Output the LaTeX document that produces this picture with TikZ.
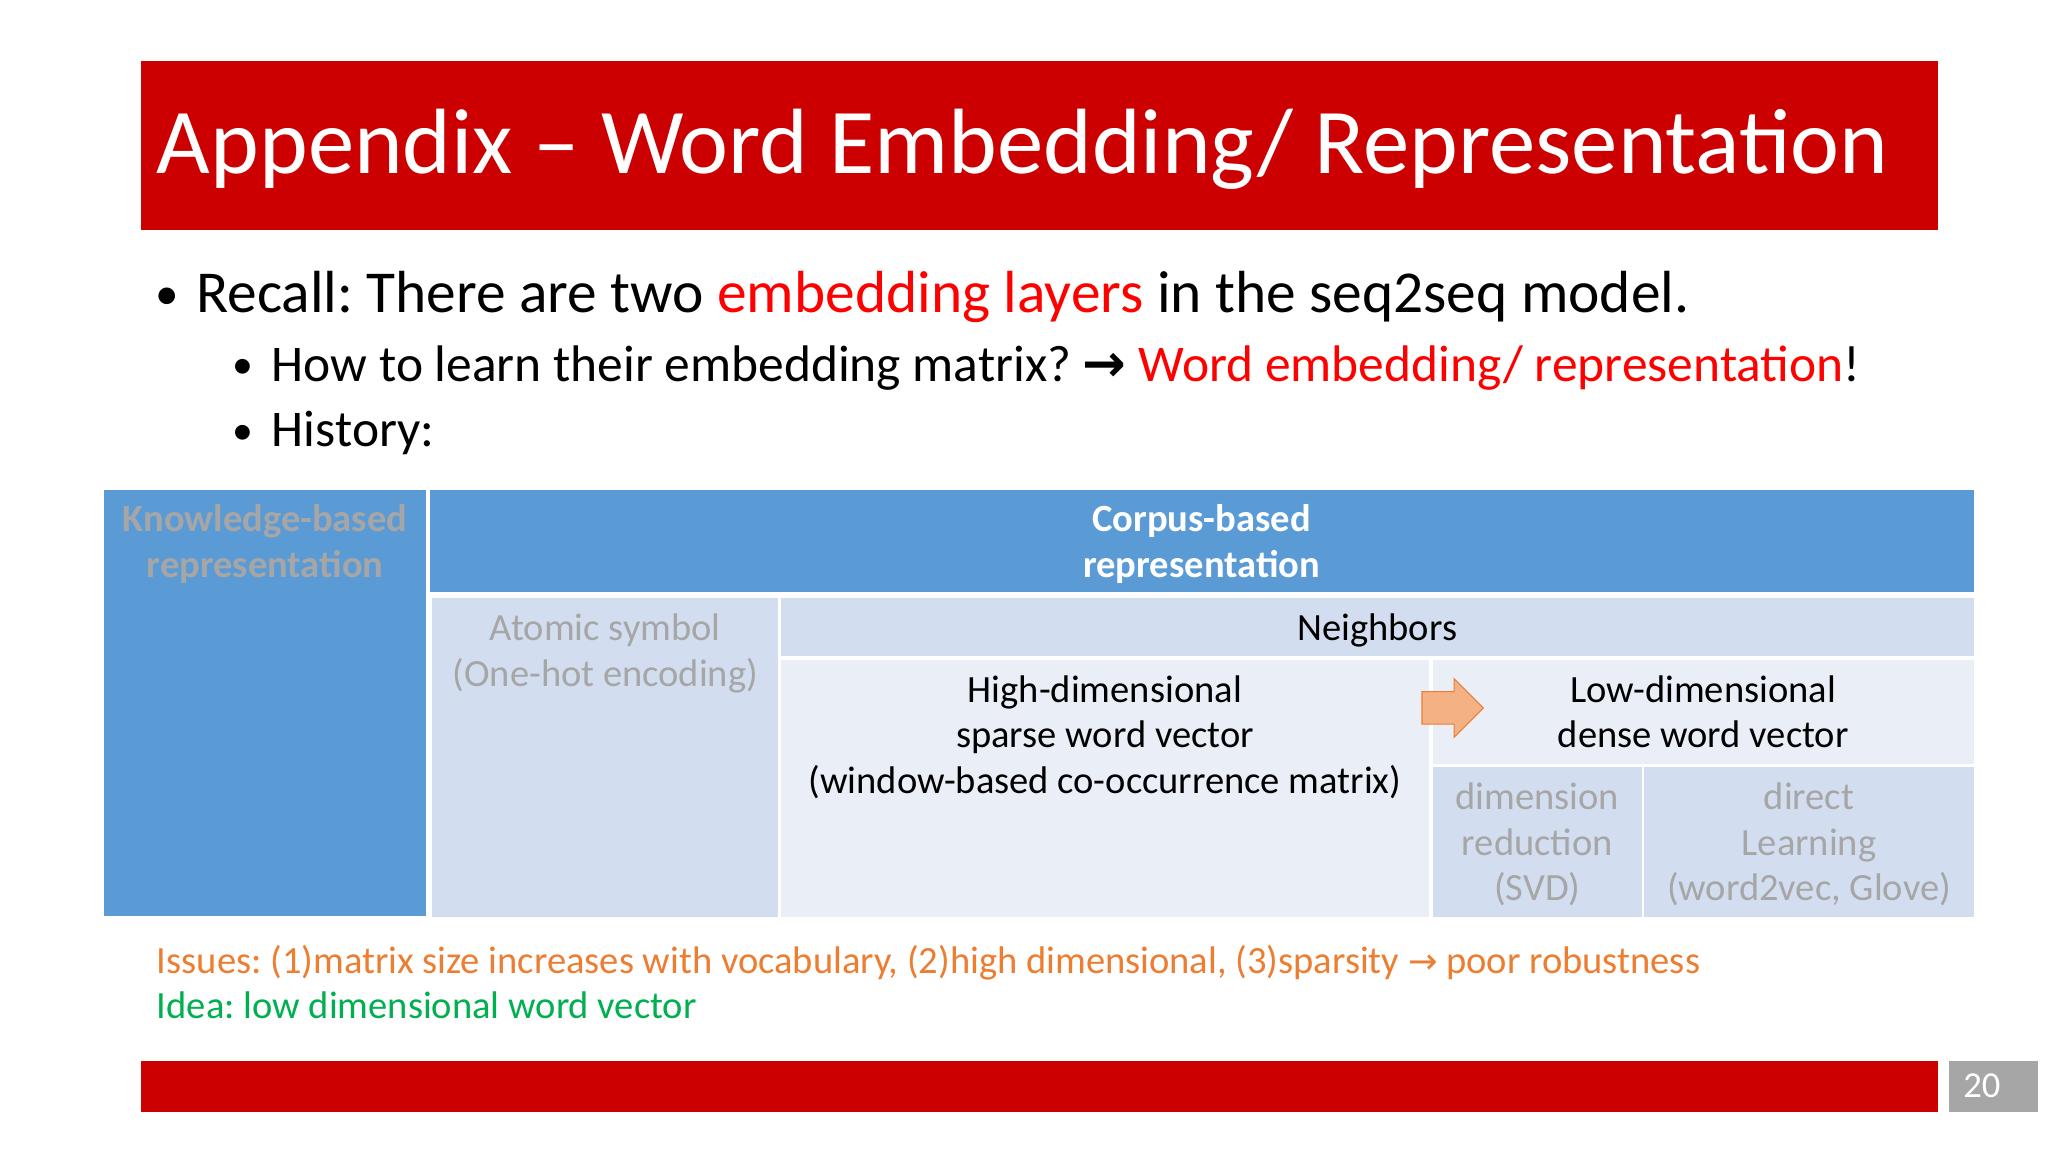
\documentclass[tikz,border=0pt]{standalone}
\usepackage{fontspec}
\setmainfont{Carlito}
\newfontfamily\symfont{DejaVu Sans}
\usetikzlibrary{shapes.arrows, positioning}
\definecolor{TitleRed}{HTML}{CC0000}
\definecolor{HiRed}{HTML}{FF0000}
\definecolor{CellDark}{HTML}{5B9BD5}
\definecolor{CellMid}{HTML}{D2DEEF}
\definecolor{CellLight}{HTML}{EAEFF7}
\definecolor{FadeGrey}{HTML}{A6A6A6}
\definecolor{IssueOrange}{HTML}{ED7D31}
\definecolor{IdeaGreen}{HTML}{00B050}
\definecolor{ArrowFill}{HTML}{F4B183}
\frenchspacing

\tikzset{
  cell/.style={anchor=north west, inner sep=0pt, outer sep=0pt},
  celltext/.style={anchor=north, align=center, inner sep=0pt, font=\fontsize{29.5}{35}\selectfont},
  bar/.style={fill=TitleRed, anchor=north west, inner sep=0pt, outer sep=0pt},
  linetext/.style={anchor=base west, inner sep=0pt},
}

\begin{document}
\begin{tikzpicture}[x=1pt, y=-1pt]
  \useasboundingbox[fill=white] (0,0) rectangle (1568,882);

  % title and footer bars
  \node[bar, minimum width=1376pt, minimum height=129pt] (titlebar) at (108,47) {};
  \node[linetext, text=white, font=\fontsize{71}{80}\selectfont] (title) at (120,133)
    {Appendix – Word Embedding/ Representation};
  \node[bar, minimum width=1376pt, minimum height=39pt] (footbar) at (108,812) {};
  \node[cell, fill=FadeGrey, minimum width=68pt, minimum height=39pt] (pagebox) at (1492,812) {};
  \node[anchor=west, inner sep=0pt, text=white, font=\fontsize{28}{30}\selectfont] (pagenum) at ([xshift=11pt]pagebox.west) {20};

  % bullet points
  \node[anchor=base, inner sep=0pt, font=\fontsize{36}{40}\selectfont] (dot1) at (128,237) {•};
  \node[linetext, font=\fontsize{45.5}{50}\selectfont] (recall) at (150,239)
    {Recall: There are two \textcolor{HiRed}{embedding layers} in the seq2seq model.};
  \node[anchor=base, inner sep=0pt, font=\fontsize{32}{36}\selectfont] (dot2) at (186,290) {•};
  \node[linetext, font=\fontsize{39.4}{46}\selectfont] (howto) at (208,292)
    {How to learn their embedding matrix? {\symfont\fontsize{40}{40}\selectfont\bfseries →} \textcolor{HiRed}{Word embedding/ representation}!};
  \node[anchor=base, inner sep=0pt, font=\fontsize{32}{36}\selectfont] (dot3) at (186,340) {•};
  \node[linetext, font=\fontsize{39.4}{46}\selectfont] (history) at (208,342) {History:};

  % table cells
  \node[cell, fill=CellDark, minimum width=246pt, minimum height=326pt] (know) at (80,375) {};
  \node[cell, fill=CellDark, minimum width=1182pt, minimum height=78pt] (corpus) at (329,375) {};
  \node[cell, fill=CellMid, minimum width=265pt, minimum height=244pt] (atomic) at (331,458) {};
  \node[cell, fill=CellMid, minimum width=913pt, minimum height=44pt] (neigh) at (598,458) {};
  \node[cell, fill=CellLight, minimum width=496pt, minimum height=197pt] (high) at (598,505) {};
  \node[cell, fill=CellLight, minimum width=414pt, minimum height=80pt] (low) at (1097,505) {};
  \node[cell, fill=CellMid, minimum width=160pt, minimum height=115pt] (svd) at (1097,587) {};
  \node[cell, fill=CellMid, minimum width=252pt, minimum height=115pt] (direct) at (1259,587) {};

  % cell texts
  \node[celltext, text=FadeGrey, font=\fontsize{29.5}{35}\selectfont\bfseries] at ([yshift=-11pt]know.north)
    {Knowledge-based\\representation};
  \node[celltext, text=white, font=\fontsize{29.5}{35}\selectfont\bfseries] at ([yshift=-11pt]corpus.north)
    {Corpus-based\\representation};
  \node[celltext, text=FadeGrey] at ([yshift=-12pt]atomic.north) {Atomic symbol\\(One-hot encoding)};
  \node[celltext] at ([yshift=-12pt]neigh.north) {Neighbors};
  \node[celltext] at ([yshift=-12pt]high.north)
    {High-dimensional\\sparse word vector\\(window-based co-occurrence matrix)};
  \node[celltext] at ([yshift=-12pt]low.north) {Low-dimensional\\dense word vector};
  \node[celltext, text=FadeGrey] at ([yshift=-12pt]svd.north) {dimension\\reduction\\(SVD)};
  \node[celltext, text=FadeGrey] at ([yshift=-12pt]direct.north) {direct\\Learning\\(word2vec, Glove)};

  % block arrow between the vectors
  \node[single arrow, fill=ArrowFill, draw=IssueOrange, line width=0.8pt, inner xsep=0pt, inner ysep=12pt,
        minimum height=47pt, single arrow head extend=10pt] (arr) at (1106,542) {};

  % notes under the table
  \node[linetext, text=IssueOrange, font=\fontsize{29.5}{35}\selectfont] (issues) at (120,745)
    {Issues: (1)matrix size increases with vocabulary, (2)high dimensional, (3)sparsity {\symfont\fontsize{27}{30}\selectfont →} poor robustness};
  \node[linetext, text=IdeaGreen, font=\fontsize{29.5}{35}\selectfont] (idea) at (120,780)
    {Idea: low dimensional word vector};
\end{tikzpicture}
\end{document}
